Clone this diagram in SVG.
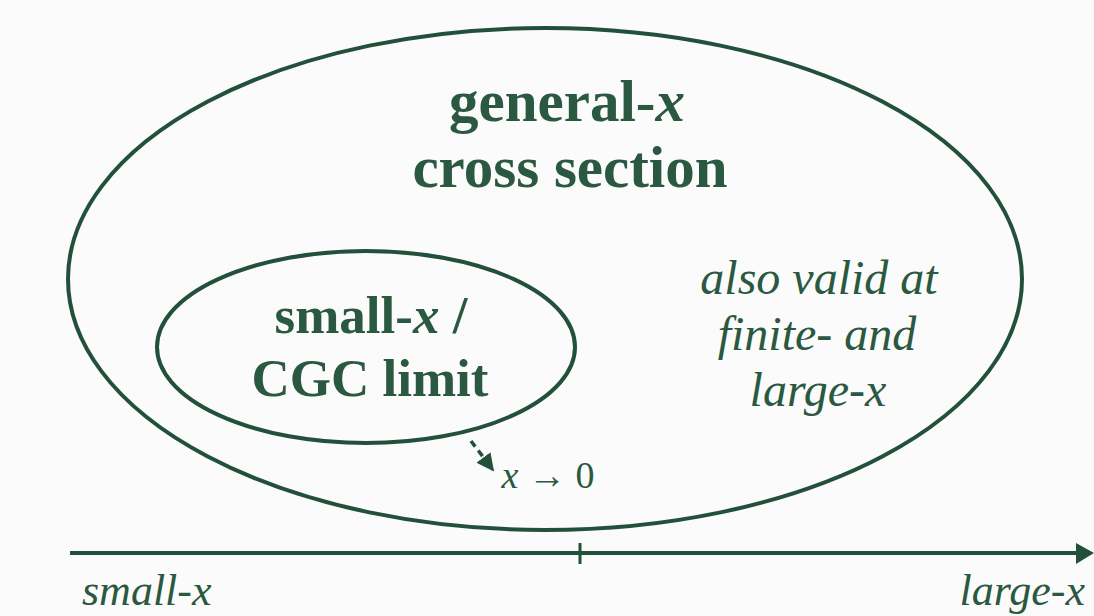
<svg xmlns="http://www.w3.org/2000/svg" width="1094" height="616" viewBox="0 0 1094 616">
<style>
.ln{stroke:#22503a;fill:none}
.b{font-family:"Liberation Serif",serif;font-weight:bold;fill:#2a5840;text-anchor:middle}
.i{font-family:"Liberation Serif",serif;font-style:italic;fill:#2a5840;text-anchor:middle}
</style>
<defs>
<marker id="ah" viewBox="0 0 10 10" refX="9" refY="5" markerWidth="5" markerHeight="5" orient="auto" markerUnits="strokeWidth">
<path d="M0,0 L10,5 L0,10 z" fill="#22503a"/>
</marker>
</defs>
<rect width="1094" height="616" fill="#fafbfa"/>
<g id="general">
<ellipse cx="545" cy="279" rx="477" ry="251" fill="#eef3ef" class="ln" stroke-width="4"/>
<text x="567" y="121" class="b" font-size="59">general-<tspan font-style="italic">x</tspan></text>
<text x="570" y="187" class="b" font-size="59">cross section</text>
<text x="819" y="294" class="i" font-size="48">also valid at</text>
<text x="817" y="350" class="i" font-size="48">finite- and</text>
<text x="818" y="406" class="i" font-size="48">large-x</text>
</g>
<g id="smallx">
<ellipse cx="366" cy="347" rx="209" ry="96" fill="#dce8df" class="ln" stroke-width="4"/>
<text x="371" y="333" class="b" font-size="53">small-<tspan font-style="italic">x</tspan> /</text>
<text x="370" y="396" class="b" font-size="53">CGC limit</text>
</g>
<g id="connectors">
<line x1="471" y1="441" x2="493" y2="470" class="ln" stroke-width="3.5" stroke-dasharray="7,5" marker-end="url(#ah)"/>
<line x1="70" y1="553" x2="1078" y2="553" class="ln" stroke-width="4"/>
<path d="M1076,543 L1094,553 L1076,564 z" fill="#22503a"/>
<line x1="580" y1="543" x2="580" y2="564" class="ln" stroke-width="3"/>
</g>
<g id="labels">
<text x="548" y="488" class="i" font-size="38">x <tspan font-style="normal">→ 0</tspan></text>
<text x="82" y="605" class="i" font-size="44" style="text-anchor:start">small-x</text>
<text x="1085" y="605" class="i" font-size="44" style="text-anchor:end">large-x</text>
</g>
</svg>
